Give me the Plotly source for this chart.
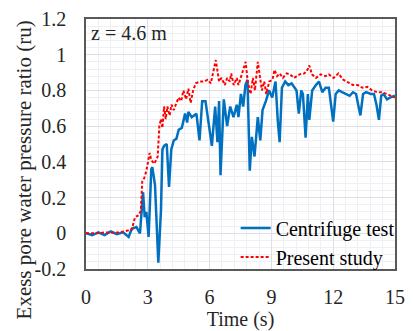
import plotly.graph_objects as go

# Centrifuge test (blue)
t_cent = [0.0, 0.3, 0.6, 0.9, 1.2, 1.5, 1.8, 2.07, 2.22, 2.45, 2.62, 2.77, 2.85, 2.93, 3.04,
          3.17, 3.22, 3.35, 3.51, 3.64, 3.71, 3.79, 3.92, 4.03, 4.14, 4.26, 4.39, 4.5, 4.65,
          4.81, 4.91, 4.97, 5.13, 5.36, 5.51, 5.64, 5.8, 5.93, 5.99, 6.11, 6.27, 6.38, 6.46,
          6.53, 6.69, 6.85, 7.0, 7.16, 7.32, 7.4, 7.52, 7.63, 7.74, 7.84, 7.95, 8.05, 8.18,
          8.34, 8.46, 8.57, 8.73, 8.89, 9.04, 9.2, 9.31, 9.4, 9.51, 9.67, 9.82, 9.98, 10.22,
          10.33, 10.45, 10.53, 10.66, 10.77, 10.84, 10.98, 11.16, 11.31, 11.47, 11.63, 11.79,
          11.91, 12.0, 12.12, 12.27, 12.43, 12.65, 12.8, 12.96, 13.11, 13.23, 13.32, 13.45,
          13.6, 13.82, 13.98, 14.1, 14.22, 14.33, 14.45, 14.61, 14.76, 15.0]
v_cent = [0.0, -0.01, 0.005, -0.01, 0.01, -0.005, 0.005, -0.02, 0.025, 0.035, 0.0, 0.23, 0.09,
          0.12, -0.02, 0.36, 0.37, 0.27, -0.165, 0.13, 0.47, 0.49, 0.50, 0.26, 0.47, 0.52, 0.53,
          0.58, 0.59, 0.67, 0.62, 0.68, 0.65, 0.67, 0.52, 0.74, 0.74, 0.64, 0.58, 0.49, 0.71,
          0.51, 0.74, 0.325, 0.75, 0.60, 0.71, 0.65, 0.72, 0.65, 0.78, 0.71, 0.83, 0.86, 0.35,
          0.54, 0.43, 0.65, 0.52, 0.69, 0.74, 0.80, 0.76, 0.85, 0.63, 0.51, 0.815, 0.85, 0.83,
          0.84, 0.80, 0.67, 0.80, 0.78, 0.535, 0.78, 0.635, 0.80, 0.83, 0.85, 0.79, 0.815, 0.815,
          0.71, 0.625, 0.78, 0.80, 0.79, 0.78, 0.77, 0.79, 0.78, 0.71, 0.66, 0.78, 0.79, 0.78,
          0.78, 0.72, 0.635, 0.77, 0.78, 0.75, 0.76, 0.77]

# Present study (red dashed)
t_pres = [0.0, 0.5, 1.0, 1.6, 2.22, 2.38, 2.54, 2.66, 2.73, 2.83, 2.93, 3.09, 3.17, 3.32, 3.48,
          3.56, 3.64, 3.71, 3.79, 3.87, 3.95, 4.06, 4.15, 4.26, 4.39, 4.5, 4.62, 4.73, 4.86,
          4.97, 5.08, 5.2, 5.33, 5.51, 5.75, 5.9, 6.06, 6.22, 6.3, 6.46, 6.58, 6.74, 6.85, 6.98,
          7.05, 7.17, 7.32, 7.4, 7.55, 7.68, 7.75, 7.85, 7.99, 8.1, 8.2, 8.34, 8.43, 8.54, 8.65,
          8.75, 8.9, 9.05, 9.15, 9.28, 9.4, 9.56, 9.74, 9.9, 10.1, 10.37, 10.6, 10.77, 10.84,
          10.97, 11.16, 11.39, 11.63, 11.79, 12.02, 12.25, 12.49, 12.72, 12.96, 13.19, 13.42,
          13.66, 13.89, 14.13, 14.36, 14.6, 14.84, 15.0]
v_pres = [0.0, 0.0, 0.005, 0.005, 0.02, 0.09, 0.10, 0.125, 0.29, 0.31, 0.35, 0.45, 0.41, 0.39,
          0.43, 0.60, 0.64, 0.59, 0.71, 0.64, 0.71, 0.66, 0.72, 0.69, 0.73, 0.76, 0.74, 0.80,
          0.75, 0.81, 0.73, 0.80, 0.84, 0.85, 0.85, 0.86, 0.84, 0.92, 0.97, 0.85, 0.87, 0.83,
          0.87, 0.85, 0.895, 0.83, 0.87, 0.83, 0.89, 0.94, 0.96, 0.85, 0.78, 0.87, 0.80, 0.96,
          0.89, 0.80, 0.85, 0.78, 0.85, 0.86, 0.915, 0.88, 0.895, 0.87, 0.895, 0.89, 0.87, 0.89,
          0.895, 0.92, 0.94, 0.89, 0.87, 0.89, 0.88, 0.89, 0.87, 0.895, 0.86, 0.845, 0.83, 0.83,
          0.815, 0.82, 0.80, 0.79, 0.79, 0.78, 0.77, 0.76]

x_ticks = [0, 3, 6, 9, 12, 15]
y_ticks = [-0.2, 0, 0.2, 0.4, 0.6, 0.8, 1, 1.2]
y_tick_labels = ["-0.2", "0", "0.2", "0.4", "0.6", "0.8", "1", "1.2"]

FONT = "Liberation Serif, Times New Roman, serif"
FS = 20
TXT = "#262626"

fig = go.Figure()
fig.add_trace(go.Scatter(x=t_cent, y=v_cent, mode="lines", name="Centrifuge test",
                         line=dict(color="#0070C0", width=2.5)))
fig.add_trace(go.Scatter(x=t_pres, y=v_pres, mode="lines", name="Present study",
                         line=dict(color="#FF0000", width=2, dash="3px,2px")))

axis_common = dict(showline=True, linecolor="#595959", linewidth=1.5, mirror=True,
                   showgrid=True, gridcolor="#DCE0E6", gridwidth=1, zeroline=False,
                   ticks="outside", tickcolor="rgba(0,0,0,0)",
                   tickfont=dict(family=FONT, size=FS, color=TXT))

fig.update_xaxes(range=[0, 15], tickvals=x_ticks, ticktext=[str(v) for v in x_ticks],
                 ticklen=9,
                 title=dict(text="Time (s)", font=dict(family=FONT, size=FS, color=TXT),
                            standoff=1),
                 minor=dict(dtick=0.6, showgrid=True, gridcolor="#EEF0F3", gridwidth=1),
                 **axis_common)
fig.update_yaxes(range=[-0.2, 1.2], tickvals=y_ticks, ticktext=y_tick_labels,
                 ticklen=14,
                 minor=dict(dtick=0.04, showgrid=True, gridcolor="#EEF0F3", gridwidth=1),
                 **axis_common)

# y-axis title (placed as rotated text, lower than plot centre as in the reference)
fig.add_annotation(text="Exess pore water pressure ratio (ru)", xref="paper", yref="paper",
                   x=-0.2, y=0.395, xanchor="center", yanchor="middle", textangle=-90,
                   showarrow=False, font=dict(family=FONT, size=21, color=TXT))

fig.add_annotation(text="z = 4.6 m", xref="paper", yref="paper", x=0.01, y=0.995,
                   xanchor="left", yanchor="top", showarrow=False,
                   font=dict(family=FONT, size=FS, color=TXT))

fig.update_layout(
    width=413, height=331,
    margin=dict(l=86, r=8, t=16, b=58),
    paper_bgcolor="white", plot_bgcolor="white",
    showlegend=True,
    legend=dict(x=1.015, y=-0.03, xanchor="right", yanchor="bottom",
                bgcolor="rgba(0,0,0,0)", font=dict(family=FONT, size=FS, color="#000000"),
                itemwidth=30, tracegroupgap=0),
)

fig.write_html("out.html")
